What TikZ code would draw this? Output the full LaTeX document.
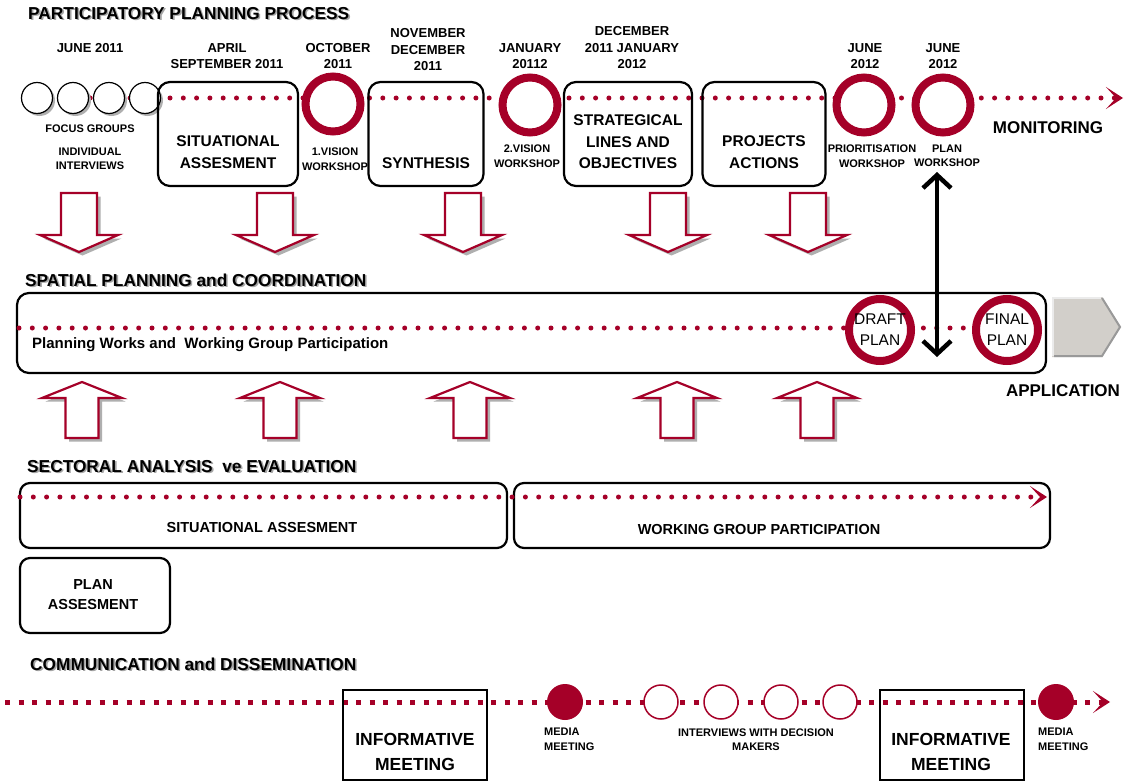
\documentclass[tikz,border=0pt]{standalone}
\usepackage{fontspec}
\setmainfont{Liberation Sans}
\usetikzlibrary{arrows.meta,positioning}

\definecolor{ringred}{RGB}{165,0,40}
\definecolor{appgray}{RGB}{210,207,202}
\definecolor{shadegray}{RGB}{175,175,175}

% text with a grey shadow behind it
\newcommand{\shtext}[1]{\makebox[0pt][l]{\hspace{1.6pt}\raisebox{-1.6pt}{\textcolor{black!35}{#1}}}#1}

\tikzset{
  ttl/.style={anchor=west, inner sep=0pt, font=\bfseries\fontsize{17.3}{20}\selectfont},
  datelbl/.style={align=center, inner sep=0pt, font=\bfseries\fontsize{13}{16.5}\selectfont},
  smalllbl/.style={align=center, inner sep=0pt, font=\bfseries\fontsize{11}{14.5}\selectfont},
  biglbl/.style={inner sep=0pt, font=\bfseries\fontsize{17}{20}\selectfont},
  boxtext/.style={align=center, inner sep=0pt, font=\bfseries\fontsize{15.5}{21.5}\selectfont},
  lowtext/.style={align=center, inner sep=0pt, font=\bfseries\fontsize{14.5}{20}\selectfont},
  inftext/.style={align=center, inner sep=0pt, font=\bfseries\fontsize{17.5}{25}\selectfont},
  pbox/.style={draw, line width=2.2pt, rounded corners=12pt, inner sep=0pt},
  mbox/.style={draw, line width=2.2pt, inner sep=0pt},
  ring/.style={circle, draw=ringred, line width=8pt, fill=white, minimum size=55pt, inner sep=0pt,
    align=center, font=\fontsize{15.5}{21}\selectfont},
  shade/.style={preaction={fill=shadegray, transform canvas={shift={(#1,-#1)}}}},
  dotc/.style={circle, draw, line width=1.2pt, fill=white, minimum size=31pt, inner sep=0pt, shade=2.5pt},
  media/.style={circle, fill=ringred, minimum size=36pt, inner sep=0pt},
  intv/.style={circle, draw=ringred, line width=1.5pt, fill=white, minimum size=34pt, inner sep=0pt},
  reddots/.style={draw=ringred, line width=5pt, line cap=round, dash pattern=on 0pt off 13.3pt},
  redsq/.style={draw=ringred, line width=5pt, dash pattern=on 5pt off 8.5pt},
  dotarrow/.style={-{Stealth[length=17pt,width=22pt,inset=10pt]}},
  dblarrow/.style={line width=4.5pt, {Straight Barb[length=13pt,width=28pt]}-{Straight Barb[length=13pt,width=28pt]}},
  harrow/.style={draw=ringred, line width=2.2pt, fill=white, line join=miter, shade=3.5pt},
  pics/down/.style={code={
    \draw[harrow] (-18,0) -- (18,0) -- (18,42) -- (39,42) -- (0,59) -- (-39,42) -- (-18,42) -- cycle;}},
  pics/up/.style={code={
    \draw[harrow] (0,0) -- (40,16) -- (16.5,16) -- (16.5,56) -- (-16.5,56) -- (-16.5,16) -- (-40,16) -- cycle;}},
}

\begin{document}
\begin{tikzpicture}[x=1pt, y=-1pt]
\useasboundingbox[fill=white] (0,0) rectangle (1125,784);

% section titles
\node[ttl] (tPPP) at (28,14)  {\shtext{PARTICIPATORY PLANNING PROCESS}};
\node[ttl] (tSPC) at (25,281) {\shtext{SPATIAL PLANNING and COORDINATION}};
\node[ttl] (tSAE) at (27,467) {\shtext{SECTORAL ANALYSIS \ ve EVALUATION}};
\node[ttl] (tCD)  at (30,665) {\shtext{COMMUNICATION and DISSEMINATION}};

% participatory planning timeline
\coordinate (tl0) at (37,98);
\coordinate (tl1) at (1123,98);
\draw[reddots, dotarrow] (tl0) -- (tl1);

\foreach \i/\x in {1/37,2/73,3/109,4/145}
    \node[dotc] (fg\i) at (\x,98) {};

\node[pbox, minimum width=140pt, minimum height=104pt] (bSit) at (228,134) {};
\node[boxtext] (xSit) at (228,152) {SITUATIONAL\\ASSESMENT};
\node[pbox, minimum width=115pt, minimum height=104pt] (bSyn) at (426,134) {};
\node[boxtext] (xSyn) at (426,163) {SYNTHESIS};
\node[pbox, minimum width=128pt, minimum height=104pt] (bStr) at (628,134) {};
\node[boxtext] (xStr) at (628,142) {STRATEGICAL\\LINES AND\\OBJECTIVES};
\node[pbox, minimum width=123pt, minimum height=104pt] (bPro) at (764,134) {};
\node[boxtext] (xPro) at (764,152) {PROJECTS\\ACTIONS};

\node[ring] (r1) at (333,104) {};
\node[ring] (r2) at (530,105) {};
\node[ring] (r3) at (864,105) {};
\node[ring] (r4) at (943,105) {};

\node[datelbl] (dJun11)  at (90,48)  {JUNE 2011};
\node[datelbl] (dAprSep) at (227,56) {APRIL\\SEPTEMBER 2011};
\node[datelbl] (dOct)    at (338,56) {OCTOBER\\2011};
\node[datelbl] (dNovDec) at (428,50) {NOVEMBER\\DECEMBER\\2011};
\node[datelbl] (dJan)    at (530,56) {JANUARY\\20112};
\node[datelbl] (dDecJan) at (632,48) {DECEMBER\\2011 JANUARY\\2012};
\node[datelbl] (dJunA)   at (865,56) {JUNE\\2012};
\node[datelbl] (dJunB)   at (943,56) {JUNE\\2012};

\node[smalllbl] (lFoc) at (90,129)  {FOCUS GROUPS};
\node[smalllbl] (lInd) at (90,159)  {INDIVIDUAL\\INTERVIEWS};
\node[smalllbl] (lV1)  at (335,159) {1.VISION\\WORKSHOP};
\node[smalllbl] (lV2)  at (527,156) {2.VISION\\WORKSHOP};
\node[smalllbl] (lPri) at (872,156) {PRIORITISATION\\WORKSHOP};
\node[smalllbl] (lPlw) at (947,156) {PLAN\\WORKSHOP};
\node[biglbl]   (lMon) at (1048,128) {MONITORING};

\foreach \x in {79,275,463,668,808}
    \pic at (\x,193) {down};

% spatial planning band
\node[pbox, minimum width=1029pt, minimum height=80pt] (bSpa) at (531.5,333) {};
\coordinate (sp0) at (19,328);
\coordinate (sp1) at (1007,328);
\draw[reddots] (sp0) -- (sp1);
\node[inner sep=0pt, anchor=west, font=\bfseries\fontsize{15}{17}\selectfont] (xPwg) at (32,345)
    {Planning Works and \ Working Group Participation};
\node[ring, minimum size=62pt] (rDraft) at (880,330) {DRAFT\\PLAN};
\node[ring, minimum size=62pt] (rFinal) at (1007,330) {FINAL\\PLAN};

\coordinate (dblTop) at (937,172);
\coordinate (dblBot) at (937,357);
\draw[dblarrow] (dblTop) -- (dblBot);

\fill[appgray] (1052,297) -- (1102,297) -- (1121,327) -- (1102,357) -- (1052,357) -- cycle;
\draw[black!8, line width=2pt] (1053,356) -- (1053,298) -- (1101,298);
\draw[black!40, line width=2pt] (1102,298) -- (1120,327) -- (1102,356) -- (1054,356);
\node[biglbl] (lApp) at (1063,391) {APPLICATION};

\foreach \x in {82,280,470,677,817}
    \pic at (\x,382) {up};

% sectoral analysis band
\node[pbox, rounded corners=10pt, minimum width=487pt, minimum height=65pt] (bSitA) at (263.5,515.5) {};
\node[pbox, rounded corners=10pt, minimum width=536pt, minimum height=65pt] (bWgp) at (782,515.5) {};
\coordinate (se0) at (20,497);
\coordinate (se1) at (1047,497);
\draw[reddots, dotarrow] (se0) -- (se1);
\node[lowtext] (xSitA) at (262,528) {SITUATIONAL ASSESMENT};
\node[lowtext] (xWgp)  at (759,530) {WORKING GROUP PARTICIPATION};
\node[pbox, rounded corners=10pt, minimum width=150pt, minimum height=75pt] (bPla) at (95,595.5) {};
\node[lowtext] (xPla) at (93,595) {PLAN\\ASSESMENT};

% communication band
\coordinate (cm0) at (5,702);
\coordinate (cm1) at (1110,702);
\draw[redsq, dotarrow] (cm0) -- (cm1);
\node[mbox, minimum width=144pt, minimum height=90pt] (bInf1) at (415,735) {};
\node[inftext] (xInf1) at (415,752) {INFORMATIVE\\MEETING};
\node[mbox, minimum width=144pt, minimum height=90pt] (bInf2) at (952,735) {};
\node[inftext] (xInf2) at (951,752) {INFORMATIVE\\MEETING};
\node[media] (m1) at (565,702) {};
\node[media] (m2) at (1056,702) {};
\foreach \i/\x in {1/661,2/721,3/781,4/840}
    \node[intv] (iv\i) at (\x,702) {};
\node[smalllbl, align=left, anchor=west] (lM1) at (544,739.5) {MEDIA\\MEETING};
\node[smalllbl] (lIv) at (756,739.5) {INTERVIEWS WITH DECISION\\MAKERS};
\node[smalllbl, align=left, anchor=west] (lM2) at (1038,739.5) {MEDIA\\MEETING};
\end{tikzpicture}
\end{document}
